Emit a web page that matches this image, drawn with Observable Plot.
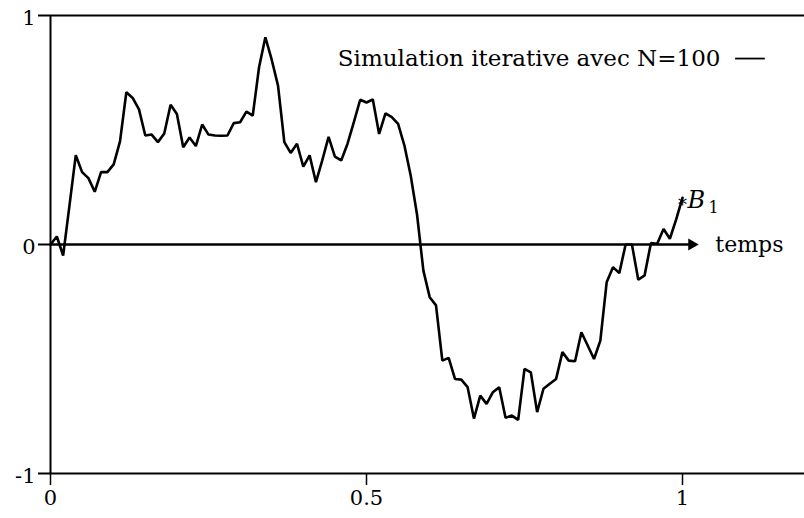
<!DOCTYPE html>
<html><head><meta charset="utf-8">
<script src="https://cdn.jsdelivr.net/npm/d3@7"></script>
<script src="https://cdn.jsdelivr.net/npm/@observablehq/plot@0.6"></script>
<style>body{margin:0;background:#fff}</style>
</head><body><div id="chart"></div>
<script>
const values = [0, 0.035, -0.048, 0.17, 0.39, 0.316, 0.29, 0.23, 0.316, 0.316,
  0.35, 0.45, 0.665, 0.64, 0.59, 0.476, 0.48, 0.447, 0.485, 0.61,
  0.57, 0.425, 0.467, 0.43, 0.524, 0.48, 0.476, 0.475, 0.476, 0.53,
  0.534, 0.58, 0.563, 0.774, 0.905, 0.807, 0.694, 0.447, 0.40, 0.44,
  0.34, 0.389, 0.272, 0.367, 0.47, 0.384, 0.367, 0.44, 0.534, 0.632,
  0.62, 0.633, 0.483, 0.573, 0.556, 0.527, 0.432, 0.30, 0.13, -0.114,
  -0.23, -0.266, -0.507, -0.495, -0.587, -0.59, -0.623, -0.76, -0.66, -0.696,
  -0.645, -0.623, -0.757, -0.747, -0.766, -0.543, -0.558, -0.732, -0.63, -0.608,
  -0.587, -0.47, -0.507, -0.51, -0.383, -0.441, -0.5, -0.42, -0.165, -0.099,
  -0.125, 0.0, 0.0, -0.154, -0.135, 0.006, 0.003, 0.068, 0.025, 0.11, 0.204];
const N = 100;
const xTicks = [0, 0.5, 1];
const yTicks = [-1, 0, 1];
const legendLabel = "Simulation iterative avec N=100";
const axisLabel = "temps";
const endLabel = "B";
const endSub = "1";

const data = values.map((v, i) => ({t: i / N, v}));
const last = data[data.length - 1];
const F = "DejaVu Serif";
const arrowEnd = 1.0206;

const chart = Plot.plot({
  width: 804, height: 518,
  marginLeft: 50, marginRight: 0, marginTop: 15, marginBottom: 45,
  style: {fontFamily: F, background: "white", color: "black"},
  x: {domain: [0, 754 / 632], label: null},
  y: {domain: [-1, 1], label: null},
  marks: [
    Plot.ruleX([0], {strokeWidth: 2}),
    Plot.ruleY([-1, 1], {strokeWidth: 2}),
    Plot.axisX(xTicks, {tickSize: 12, tickPadding: 5, fontSize: 21, tickFormat: d => String(d), strokeWidth: 1.5}),
    Plot.axisY(yTicks, {tickSize: 12, text: null, strokeWidth: 2}),
    Plot.text(yTicks, {y: d => d, frameAnchor: "left", textAnchor: "end", dx: -15, dy: 3, fontSize: 21, text: d => String(d)}),
    Plot.ruleY([0], {x1: 0, x2: arrowEnd - 0.008, strokeWidth: 2.5}),
    Plot.dot([0], {x: arrowEnd - 0.006, y: 0, symbol: "triangle", r: 4.5, rotate: 90, fill: "black", stroke: null}),
    Plot.line(data, {x: "t", y: "v", strokeWidth: 2.6, stroke: "black", strokeLinejoin: "miter"}),
    Plot.text([last], {x: "t", y: "v", text: () => "*", fontSize: 18, dy: 7}),
    Plot.text([last], {x: "t", y: "v", text: () => endLabel, fontSize: 24, fontStyle: "italic", textAnchor: "start", dx: 5, dy: 3}),
    Plot.text([last], {x: "t", y: "v", text: () => endSub, fontSize: 16, textAnchor: "start", dx: 26, dy: 10}),
    Plot.text([axisLabel], {x: 1.052, y: 0, text: d => d, fontSize: 22, textAnchor: "start"}),
    Plot.text([legendLabel], {x: 1.060, y: 0.812, text: d => d, fontSize: 23, textAnchor: "end"}),
    Plot.ruleY([0.812], {x1: 1.084, x2: 1.131, strokeWidth: 1.8})
  ]
});
document.getElementById("chart").appendChild(chart);
</script>
</body></html>
